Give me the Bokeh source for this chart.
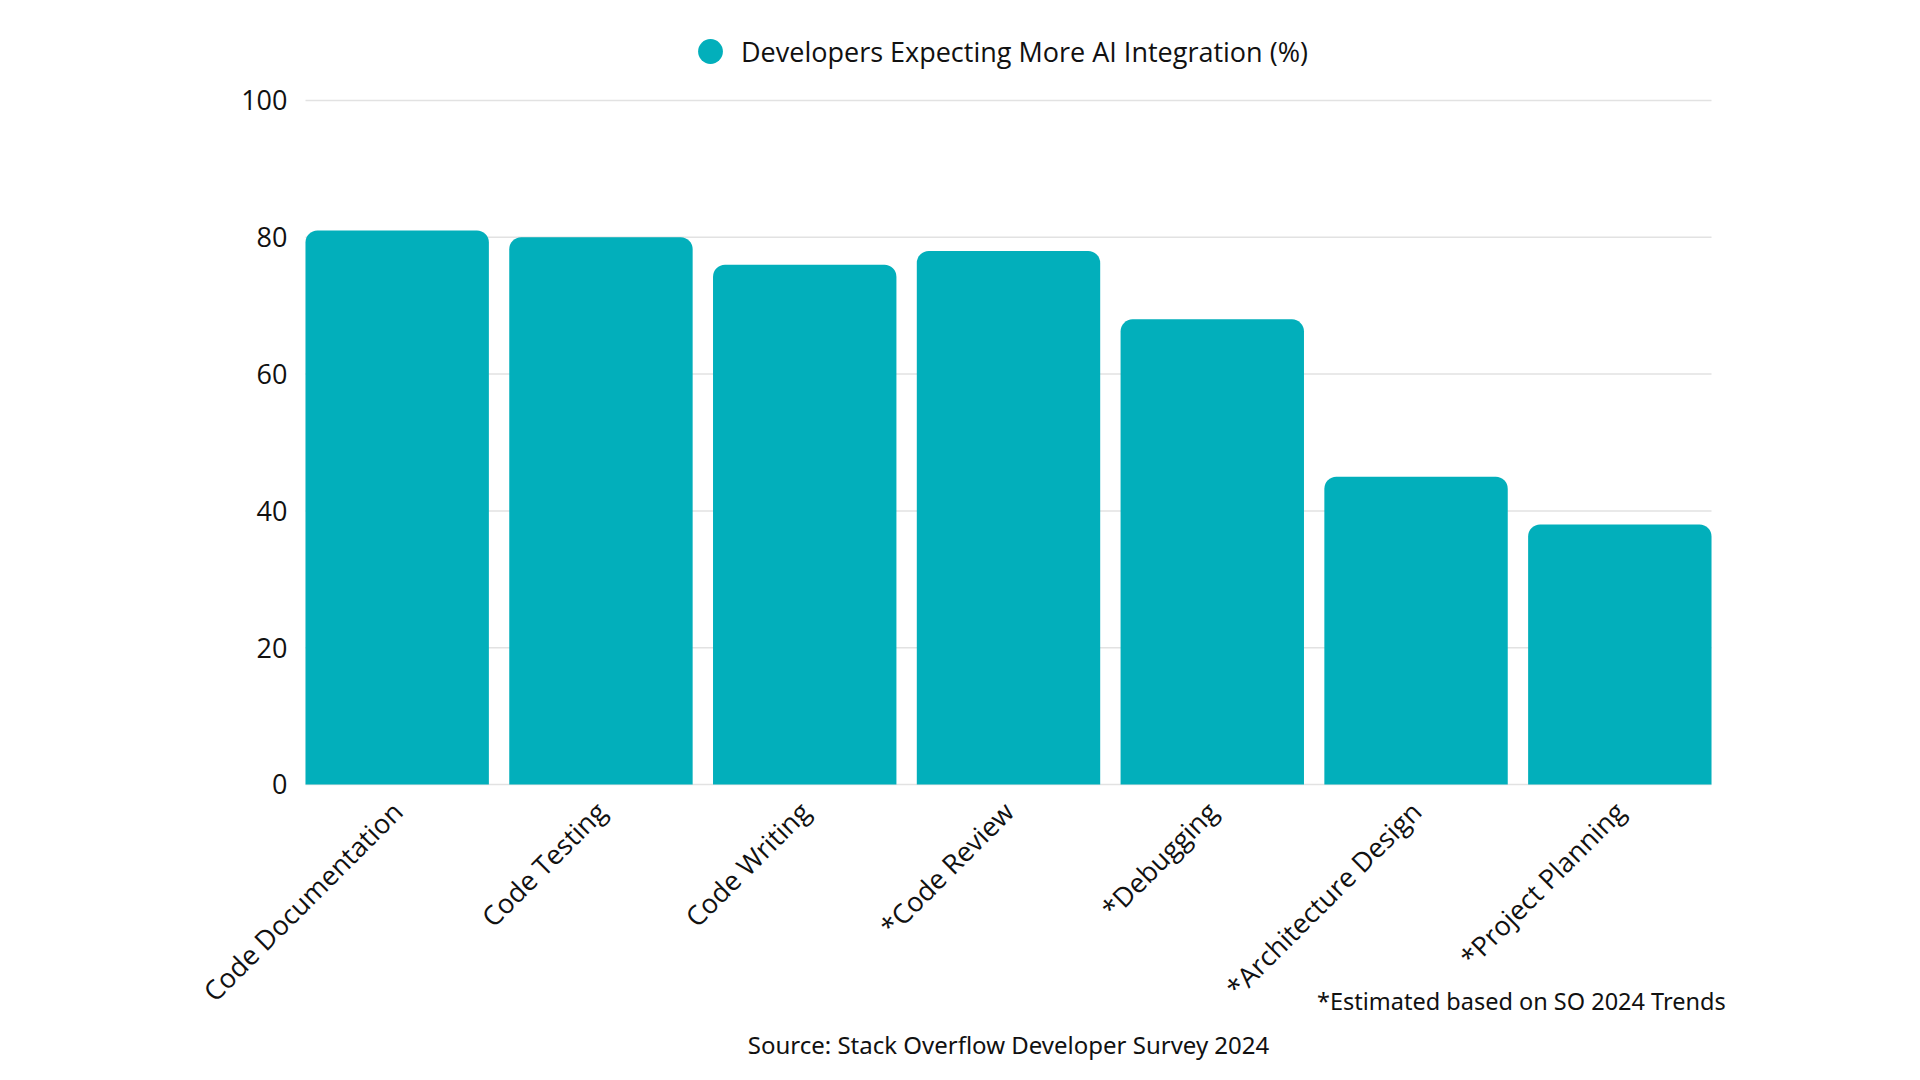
from math import pi

from bokeh.embed import file_html
from bokeh.models import FixedTicker, Label, Legend, LegendItem, Range1d
from bokeh.plotting import figure
from bokeh.resources import INLINE

categories = [
    "Code Documentation",
    "Code Testing",
    "Code Writing",
    "*Code Review",
    "*Debugging",
    "*Architecture Design",
    "*Project Planning",
]
expect_more_ai = [81, 80, 76, 78, 68, 45, 38]
y_ticks = [0, 20, 40, 60, 80, 100]

series_name = "Developers Expecting More AI Integration (%)"
note_text = "*Estimated based on SO 2024 Trends"
source_text = "Source: Stack Overflow Developer Survey 2024"

teal = "#02afbb"
ink = "#111111"
grid = "#e2e2e2"
font = "Open Sans"
bar_width = 0.9

# the frame fills nearly the whole canvas so that legend, notes and the
# slanted labels are not clipped; both axes are pinned inside it
p = figure(
    x_range=categories,
    y_range=Range1d(-40.94, 114.62),
    width=1904,
    height=1064,
    output_backend="svg",
    toolbar_location=None,
    tools="",
    min_border_left=155,
    min_border_right=43,
    min_border_top=0,
    min_border_bottom=0,
)
p.outline_line_color = None
p.background_fill_color = "white"
p.border_fill_color = "white"

# padding per side, in category units
p.x_range.range_padding = 0.686
p.x_range.range_padding_units = "absolute"

# outer edges of the first and last bar
bars_left = 0.5 - bar_width / 2
bars_right = len(categories) - 0.5 + bar_width / 2

p.xgrid.grid_line_color = None
p.ygrid.grid_line_color = None
p.segment(x0=[bars_left] * len(y_ticks), x1=[bars_right] * len(y_ticks),
          y0=y_ticks, y1=y_ticks, line_color=grid, line_width=1.5)

p.vbar(
    x=categories,
    top=expect_more_ai,
    width=bar_width,
    fill_color=teal,
    line_color=None,
    border_radius=(12, 12, 0, 0),
)

# hidden stand-in so the legend shows a round marker
dot = p.scatter(x=[categories[0]], y=[0], marker="circle", size=10,
                fill_color=teal, line_color=None, visible=False)

p.yaxis.ticker = FixedTicker(ticks=y_ticks)
p.yaxis.fixed_location = bars_left
p.yaxis.axis_line_color = None
p.yaxis.major_tick_line_color = None
p.yaxis.minor_tick_line_color = None
p.yaxis.major_tick_out = 0
p.yaxis.major_label_standoff = 18
p.yaxis.major_label_text_font = font
p.yaxis.major_label_text_font_size = "27px"
p.yaxis.major_label_text_color = ink

p.xaxis.fixed_location = 0
p.xaxis.axis_line_color = None
p.xaxis.major_tick_line_color = None
p.xaxis.major_tick_out = 0
p.xaxis.major_label_orientation = pi / 4
p.xaxis.major_label_standoff = 22
p.xaxis.major_label_text_font = font
p.xaxis.major_label_text_font_size = "27px"
p.xaxis.major_label_text_color = ink

legend = Legend(
    items=[LegendItem(label=series_name, renderers=[dot])],
    location=(524, 982),
    orientation="horizontal",
    glyph_width=62,
    glyph_height=62,
    label_standoff=0,
    padding=0,
    margin=0,
    border_line_color=None,
    background_fill_alpha=0,
    label_text_font=font,
    label_text_font_size="27px",
    label_text_color=ink,
)
p.add_layout(legend)

p.add_layout(Label(
    x=len(categories), y=-31.6, x_offset=4, text=note_text,
    text_align="right", text_baseline="middle",
    text_font="Noto Sans", text_font_size="23.5px", text_color=ink,
))
p.add_layout(Label(
    x=len(categories) / 2, y=-38, text=source_text,
    text_align="center", text_baseline="middle",
    text_font="Noto Sans", text_font_size="24px", text_color=ink,
))

open("out.html", "w").write(file_html(p, INLINE))
